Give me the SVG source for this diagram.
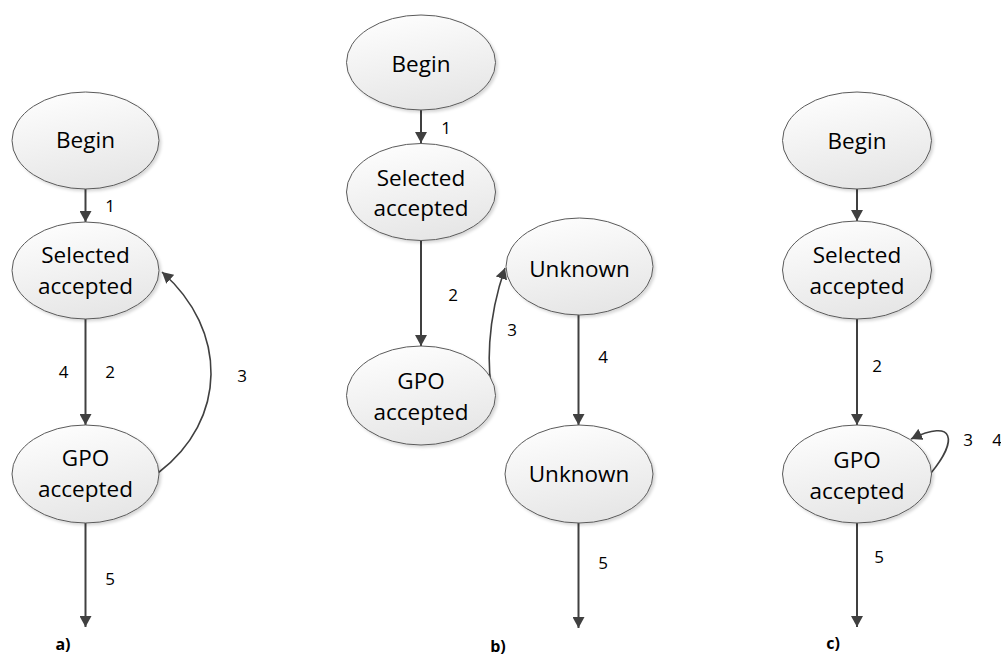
<svg xmlns="http://www.w3.org/2000/svg" width="1001" height="658" viewBox="0 0 1001 658">
<style>
.node ellipse{fill:url(#g);stroke:#5a5a5a;stroke-width:1;filter:url(#sh)}
.node text{font-family:"Open Sans","Noto Sans",sans-serif;font-size:22.5px;fill:#000;text-anchor:middle}
.edge{fill:none;stroke:#404040;stroke-width:2;marker-end:url(#ah)}
.curve{stroke-width:1.6}
.lbl{font-family:"Open Sans","Noto Sans",sans-serif;font-size:17px;fill:#000;text-anchor:middle}
.cap{font-family:"Open Sans","Noto Sans",sans-serif;font-size:16px;font-weight:bold;fill:#000;text-anchor:middle}
</style>
<defs>
<linearGradient id="g" x1="0.2" y1="0" x2="0.5" y2="1">
<stop offset="0" stop-color="#fefefe"/>
<stop offset="1" stop-color="#e6e6e6"/>
</linearGradient>
<filter id="sh" x="-10%" y="-10%" width="125%" height="130%">
<feDropShadow dx="2" dy="2" stdDeviation="1.8" flood-color="#000" flood-opacity="0.16"/>
</filter>
<marker id="ah" markerUnits="userSpaceOnUse" markerWidth="12" markerHeight="12" refX="11" refY="6" orient="auto" viewBox="0 0 12 12">
<path d="M0,0 L11,6 L0,12 z" fill="#404040"/>
</marker>
</defs>
<rect width="1001" height="658" fill="#fff"/>

<g id="connectors">
<path class="edge" d="M85.5 189 L85.5 222"/>
<path class="edge" d="M85.5 319 L85.5 425"/>
<path class="edge curve" d="M158 473 C228 420, 228 330, 162 272"/>
<path class="edge" d="M85.5 523 L85.5 627"/>

<path class="edge" d="M421 110 L421 143"/>
<path class="edge" d="M421 241 L421 346"/>
<path class="edge curve" d="M494 400 C486 370, 487 320, 505 268"/>
<path class="edge" d="M578.5 315 L578.5 425"/>
<path class="edge" d="M578.5 523 L578.5 628"/>

<path class="edge" d="M857 189 L857 221"/>
<path class="edge" d="M857 319 L857 425"/>
<path class="edge curve" d="M931 473 C958 440, 955 418, 911 439"/>
<path class="edge" d="M857 523 L857 627"/>
</g>

<g id="a-begin" class="node"><ellipse cx="85.5" cy="140.5" rx="73.5" ry="48.5"/><text x="85.5" y="148">Begin</text></g>
<g id="a-selected" class="node"><ellipse cx="85.5" cy="270.5" rx="73.5" ry="48.5"/><text x="85.5" y="263">Selected</text><text x="85.5" y="293.5">accepted</text></g>
<g id="a-gpo" class="node"><ellipse cx="85.5" cy="474" rx="73.5" ry="49"/><text x="85.5" y="466">GPO</text><text x="85.5" y="497">accepted</text></g>

<g id="b-begin" class="node"><ellipse cx="421" cy="62.5" rx="74.5" ry="47.5"/><text x="421" y="71.5">Begin</text></g>
<g id="b-selected" class="node"><ellipse cx="421" cy="192" rx="74.5" ry="48.5"/><text x="421" y="185.5">Selected</text><text x="421" y="215.5">accepted</text></g>
<g id="b-unknown1" class="node"><ellipse cx="579.5" cy="266.5" rx="73.5" ry="48.5"/><text x="579.5" y="276.5">Unknown</text></g>
<g id="b-gpo" class="node"><ellipse cx="421" cy="395.5" rx="74.5" ry="49.5"/><text x="421" y="389">GPO</text><text x="421" y="419.5">accepted</text></g>
<g id="b-unknown2" class="node"><ellipse cx="579" cy="474" rx="74" ry="49"/><text x="579" y="482">Unknown</text></g>

<g id="c-begin" class="node"><ellipse cx="857" cy="140.5" rx="74.5" ry="48.5"/><text x="857" y="148.5">Begin</text></g>
<g id="c-selected" class="node"><ellipse cx="857" cy="270" rx="74.5" ry="49"/><text x="857" y="263">Selected</text><text x="857" y="293.5">accepted</text></g>
<g id="c-gpo" class="node"><ellipse cx="857" cy="474" rx="74.5" ry="49"/><text x="857" y="468">GPO</text><text x="857" y="498.5">accepted</text></g>

<g id="labels">
<text class="lbl" x="110" y="212">1</text>
<text class="lbl" x="63.5" y="377.5">4</text>
<text class="lbl" x="110" y="377.5">2</text>
<text class="lbl" x="242" y="381.5">3</text>
<text class="lbl" x="110" y="585">5</text>
<text class="cap" x="63" y="650">a)</text>

<text class="lbl" x="446" y="134">1</text>
<text class="lbl" x="453" y="300.5">2</text>
<text class="lbl" x="512" y="336">3</text>
<text class="lbl" x="603" y="363">4</text>
<text class="lbl" x="603" y="569">5</text>
<text class="cap" x="498" y="652">b)</text>

<text class="lbl" x="877" y="371.5">2</text>
<text class="lbl" x="968" y="446">3</text>
<text class="lbl" x="997" y="446">4</text>
<text class="lbl" x="879" y="563">5</text>
<text class="cap" x="833" y="649">c)</text>
</g>
</svg>
